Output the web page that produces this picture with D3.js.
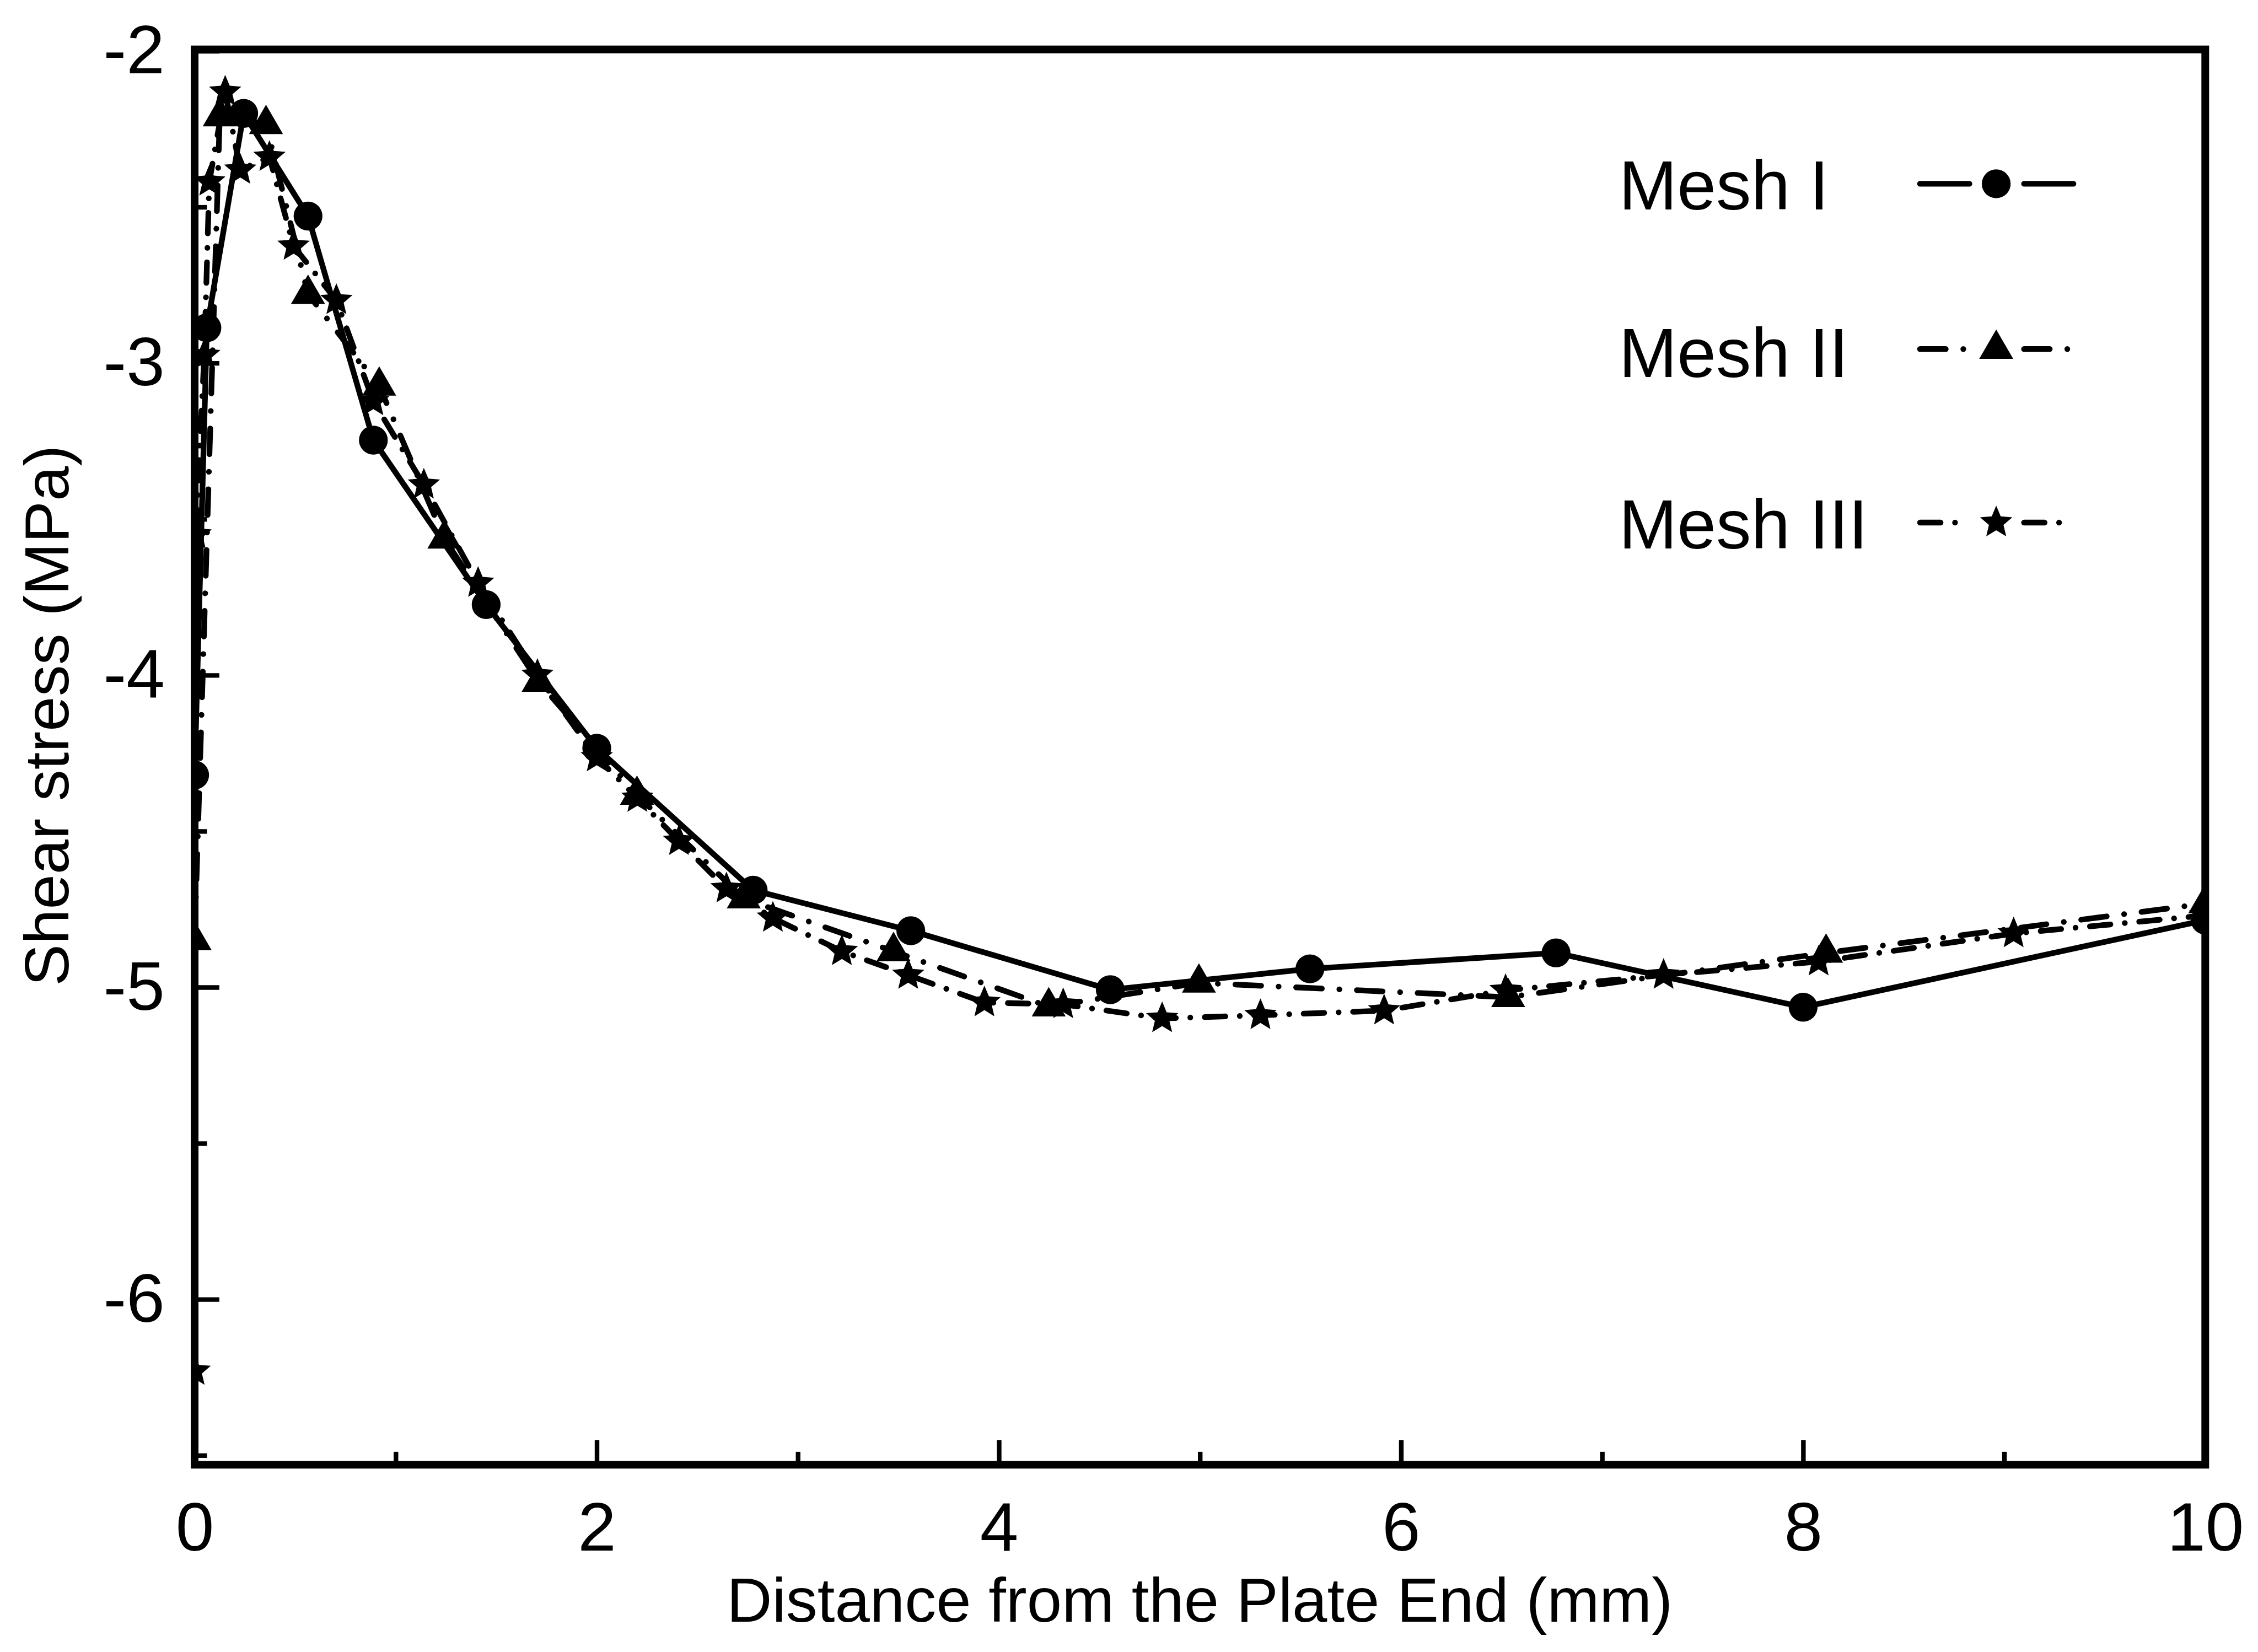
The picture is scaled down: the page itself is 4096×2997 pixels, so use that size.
<!DOCTYPE html>
<html>
<head>
<meta charset="utf-8">
<script src="https://cdn.jsdelivr.net/npm/d3@7"></script>
<style>
  html, body { margin: 0; padding: 0; background: #fff; }
  svg { display: block; }
</style>
</head>
<body>
<div id="chart"></div>
<script>
  // data (x in mm, y in MPa)
  const mesh1X = [0, 0.061, 0.244, 0.564, 0.889, 1.45, 2.0, 2.778, 3.562, 4.554, 5.547, 6.771, 8.0, 10];
  const mesh1Y = [-4.32, -2.887, -2.2, -2.529, -3.247, -3.774, -4.234, -4.689, -4.819, -5.008, -4.941, -4.89, -5.064, -4.785];

  const mesh2X = [0, 0.125, 0.355, 0.564, 0.918, 1.242, 1.711, 2.2, 2.731, 3.476, 4.248, 4.995, 6.533, 8.114, 10];
  const mesh2Y = [-4.85, -2.21, -2.235, -2.779, -3.073, -3.563, -4.022, -4.384, -4.716, -4.885, -5.062, -4.986, -5.032, -4.89, -4.732];

  const mesh3X = [0, 0.005, 0.048, 0.073, 0.152, 0.227, 0.372, 0.492, 0.705, 0.889, 1.14, 1.41, 1.705, 2.0, 2.202,
    2.409, 2.645, 2.876, 3.219, 3.549, 3.928, 4.32, 4.812, 5.301, 5.916, 6.52, 7.306, 8.077, 9.047, 10];
  const mesh3Y = [-6.23, -3.55, -2.975, -2.419, -2.131, -2.381, -2.34, -2.625, -2.799, -3.123, -3.39, -3.705, -4.0, -4.264, -4.394,
    -4.532, -4.684, -4.778, -4.885, -4.961, -5.049, -5.055, -5.1, -5.09, -5.075, -5.01, -4.961, -4.918, -4.828, -4.77];

  const seriesNames = ['Mesh I', 'Mesh II', 'Mesh III'];
  const xMajor = [0, 2, 4, 6, 8, 10];
  const xMinor = [1, 3, 5, 7, 9];
  const yMajor = [-2, -3, -4, -5, -6];
  const yMinor = [-2.5, -3.5, -4.5, -5.5, -6.5];

  const K = 0.934; // reference px -> page px
  const width = 4096;
  const height = 2997;
  const font = '"Liberation Sans", Arial, Helvetica, sans-serif';

  const plot = { left: 378 * K, right: 4283 * K, top: 96 * K, bottom: 2845 * K };

  const x = d3.scaleLinear().domain([0, 10]).range([plot.left, plot.right]);
  const y = d3.scaleLinear().domain([-6.53, -1.995]).range([plot.bottom, plot.top]);

  const svg = d3.select('#chart').append('svg')
    .attr('width', width)
    .attr('height', height)
    .style('background', '#fff');

  svg.append('defs').append('clipPath')
    .attr('id', 'plotClip')
    .append('rect')
    .attr('x', plot.left)
    .attr('y', plot.top)
    .attr('width', plot.right - plot.left)
    .attr('height', plot.bottom - plot.top);

  // marker shapes
  function starPath(R) {
    const r = R * 0.45;
    const pts = [];
    for (let i = 0; i < 10; i++) {
      const a = -Math.PI / 2 + i * Math.PI / 5;
      const rad = i % 2 === 0 ? R : r;
      pts.push([rad * Math.cos(a), rad * Math.sin(a)]);
    }
    return 'M' + pts.map(p => p.join(',')).join('L') + 'Z';
  }
  function trianglePath(side) {
    const h = side * 0.866;
    return `M0,${-2 * h / 3}L${side / 2},${h / 3}L${-side / 2},${h / 3}Z`;
  }
  function circlePath(r) {
    return `M${r},0A${r},${r} 0 1,1 ${-r},0A${r},${r} 0 1,1 ${r},0Z`;
  }

  const series = [
    { name: seriesNames[0], xs: mesh1X, ys: mesh1Y, shape: circlePath(28 * K), dash: null },
    { name: seriesNames[1], xs: mesh2X, ys: mesh2Y, shape: trianglePath(66 * K), dash: [50, 34, 0.1, 34] },
    { name: seriesNames[2], xs: mesh3X, ys: mesh3Y, shape: starPath(33 * K), dash: [40, 28, 0.1, 28] },
  ];

  const line = d3.line()
    .x(d => x(d[0]))
    .y(d => y(d[1]));

  const dataLayer = svg.append('g').attr('clip-path', 'url(#plotClip)');

  series.forEach((s) => {
    const pts = s.xs.map((v, i) => [v, s.ys[i]]);
    dataLayer.append('path')
      .datum(pts)
      .attr('d', line)
      .attr('fill', 'none')
      .attr('stroke', '#000')
      .attr('stroke-width', 11 * K)
      .attr('stroke-linejoin', 'round')
      .attr('stroke-linecap', 'round')
      .attr('stroke-dasharray', s.dash ? s.dash.map(v => v * K).join(' ') : null);

    dataLayer.selectAll(null)
      .data(pts)
      .enter()
      .append('path')
      .attr('d', s.shape)
      .attr('transform', d => `translate(${x(d[0])},${y(d[1])})`)
      .attr('fill', '#000');
  });

  // axes (ticks point inward)
  function styleAxis(g) {
    g.select('.domain').remove();
    g.selectAll('.tick line').attr('stroke', '#000').attr('stroke-width', 9 * K);
    g.selectAll('.tick text')
      .attr('fill', '#000')
      .style('font-family', font)
      .style('font-size', `${134 * K}px`);
  }

  svg.append('g')
    .attr('transform', `translate(0,${plot.bottom})`)
    .call(d3.axisBottom(x).tickValues(xMajor).tickSize(-48 * K).tickPadding(72 * K).tickFormat(d => String(d)))
    .call(styleAxis);

  svg.append('g')
    .attr('transform', `translate(0,${plot.bottom})`)
    .call(d3.axisBottom(x).tickValues(xMinor).tickSize(-25 * K).tickFormat(''))
    .call(styleAxis);

  svg.append('g')
    .attr('transform', `translate(${plot.left},0)`)
    .call(d3.axisLeft(y).tickValues(yMajor).tickSize(-48 * K).tickPadding(58 * K).tickFormat(d => String(d)))
    .call(styleAxis);

  svg.append('g')
    .attr('transform', `translate(${plot.left},0)`)
    .call(d3.axisLeft(y).tickValues(yMinor).tickSize(-24 * K).tickFormat(''))
    .call(styleAxis);

  // frame
  svg.append('rect')
    .attr('x', plot.left)
    .attr('y', plot.top)
    .attr('width', plot.right - plot.left)
    .attr('height', plot.bottom - plot.top)
    .attr('fill', 'none')
    .attr('stroke', '#000')
    .attr('stroke-width', 15 * K);

  // axis titles
  svg.append('text')
    .attr('x', 2330 * K)
    .attr('y', 3150 * K)
    .attr('text-anchor', 'middle')
    .style('font-family', font)
    .style('font-size', `${122 * K}px`)
    .text('Distance from the Plate End (mm)');

  svg.append('text')
    .attr('transform', `translate(${133 * K},${1390 * K}) rotate(-90)`)
    .attr('text-anchor', 'middle')
    .style('font-family', font)
    .style('font-size', `${122 * K}px`)
    .text('Shear stress (MPa)');

  // legend
  const legendBase = [407, 732, 1065];
  const legendSym = [357, 678, 1015];
  const legend = svg.append('g');

  series.forEach((s, i) => {
    legend.append('text')
      .attr('x', 3144 * K)
      .attr('y', legendBase[i] * K)
      .style('font-family', font)
      .style('font-size', `${136 * K}px`)
      .text(s.name);

    [[3724, 3830], [3926, 4032]].forEach((seg) => {
      legend.append('line')
        .attr('x1', (seg[0] + 5) * K)
        .attr('x2', (seg[1] - 5) * K)
        .attr('y1', legendSym[i] * K)
        .attr('y2', legendSym[i] * K)
        .attr('stroke', '#000')
        .attr('stroke-width', 11 * K)
        .attr('stroke-linecap', 'round')
        .attr('stroke-dasharray', s.dash ? s.dash.map(v => v * K).join(' ') : null);
    });

    legend.append('path')
      .attr('d', s.shape)
      .attr('transform', `translate(${3877 * K},${legendSym[i] * K})`)
      .attr('fill', '#000');
  });
</script>
</body>
</html>
